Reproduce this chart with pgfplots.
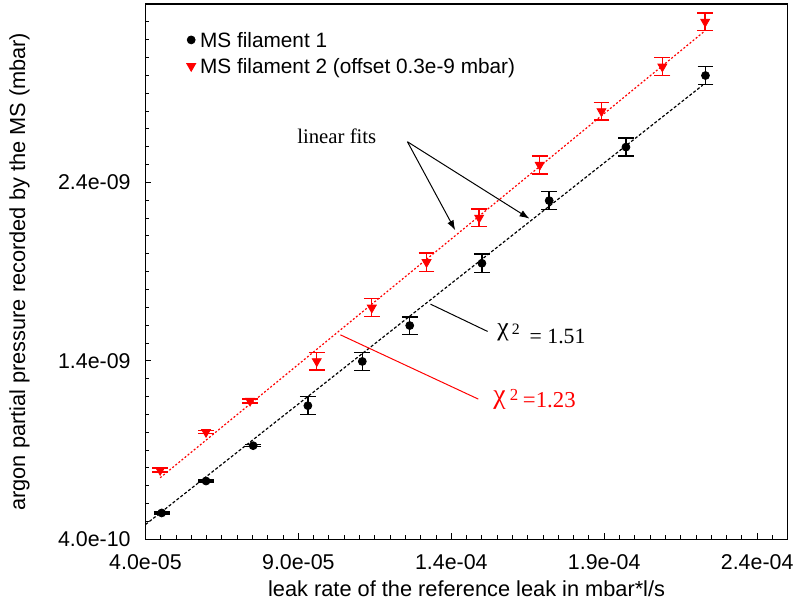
\documentclass[border=0pt]{standalone}
\usepackage{fontspec}
\setmainfont{Liberation Sans}
\newfontfamily\tms{Liberation Serif}
\usepackage{pgfplots}
\pgfplotsset{compat=1.18}
\usetikzlibrary{arrows.meta}

\begin{document}
\begin{tikzpicture}
\begin{axis}[
    scale only axis,
    width=324.5pt, height=270.5pt,
    xmin=4, xmax=25, ymin=0.4, ymax=3.4,
    xtick={4,9,14,19,24},
    xticklabels={4.0e-05,9.0e-05,1.4e-04,1.9e-04,2.4e-04},
    minor xtick={4.5,5,...,24.5},
    ytick={0.4,1.4,2.4},
    yticklabels={4.0e-10,1.4e-09,2.4e-09},
    minor ytick={0.5,0.6,...,3.35},
    tick align=inside, xtick pos=bottom, ytick pos=left,
    major tick length=3pt, minor tick length=2pt,
    axis line style={line width=0.6pt},
    tick style={black, line width=0.5pt},
    tick label style={font=\fontsize{10.8}{13}\selectfont},
    xticklabel style={yshift=-4pt},
    yticklabel style={xshift=-4pt},
    label style={font=\fontsize{11}{13}\selectfont},
    xlabel style={yshift=1pt},
    ylabel style={yshift=7.5pt},
    xlabel={leak rate of the reference leak in mbar*l/s},
    ylabel={argon partial pressure recorded by the MS (mbar)},
    legend style={at={(rel axis cs:0.049,0.953)}, anchor=north west,
        draw=none, fill=none, inner sep=0pt, row sep=0.75pt,
        font=\fontsize{10.5}{12.5}\selectfont,
        nodes={inner sep=1.5pt, text height=7.5pt, text depth=2pt}},
    legend cell align=left,
    legend image code/.code={
        \path (0pt,-3pt) rectangle (10pt,3pt);
        \draw[#1] plot coordinates {(7pt,1pt)};},
]
\coordinate (sw) at (rel axis cs:0,0);
\addlegendimage{black, mark=*, mark size=2pt, draw=none}
\addlegendentry{MS filament 1}
\addlegendimage{red, mark=triangle*, mark size=2.6pt, mark options={rotate=180}, draw=none}
\addlegendentry{MS filament 2 (offset 0.3e-9 mbar)}

% linear fits
\addplot[black, line width=0.6pt, dash pattern=on 1.5pt off 1pt, forget plot]
    coordinates {(4.00,0.483) (22.22,2.945)};
\addplot[red, line width=0.6pt, dash pattern=on 1pt off 1pt, forget plot]
    coordinates {(4.48,0.745) (22.27,3.246)};

% filament 1
\addplot[black, only marks, mark=*, mark size=2pt, forget plot,
    error bars/.cd, y dir=both, y explicit,
    error bar style={line width=0.7pt},
    error mark options={rotate=90, mark size=4pt, line width=0.7pt}]
coordinates {
    (4.53,0.548) +- (0,0.005)
    (5.98,0.727) +- (0,0.005)
    (7.52,0.925) +- (0,0.005)
    (9.31,1.149) +- (0,0.051)
    (11.09,1.397) +- (0,0.050)
    (12.64,1.598) +- (0,0.049)
    (15.00,1.947) +- (0,0.051)
    (17.20,2.298) +- (0,0.050)
    (19.71,2.598) +- (0,0.050)
    (22.31,2.999) +- (0,0.050)
};

% filament 2 (offset)
\addplot[red, only marks, mark=triangle*, mark size=2.6pt,
    mark options={rotate=180}, forget plot,
    error bars/.cd, y dir=both, y explicit,
    error bar style={line width=0.7pt},
    error mark options={rotate=90, mark size=4pt, line width=0.7pt}]
coordinates {
    (4.48,0.788) +- (0,0.011)
    (5.98,1.001) +- (0,0.009)
    (7.42,1.176) +- (0,0.011)
    (9.60,1.398) +- (0,0.050)
    (11.40,1.698) +- (0,0.050)
    (13.19,1.953) +- (0,0.051)
    (14.91,2.202) +- (0,0.050)
    (16.89,2.498) +- (0,0.050)
    (18.91,2.799) +- (0,0.050)
    (20.90,3.049) +- (0,0.050)
    (22.30,3.300) +- (0,0.050)
};

% annotations
\node[anchor=base west, inner sep=0pt, font=\tms\fontsize{10.5}{12}\selectfont]
    at (axis cs:8.95,2.618) {linear fits};
\draw[-{Latex[length=5pt,width=3.5pt]}, line width=0.5pt]
    (axis cs:12.565,2.628) -- (axis cs:14.128,2.132);
\draw[-{Latex[length=5pt,width=3.5pt]}, line width=0.5pt]
    (axis cs:12.565,2.628) -- (axis cs:16.555,2.197);

\draw[black, line width=0.5pt] (axis cs:13.319,1.718) -- (axis cs:15.186,1.565);
\node[anchor=base west, inner sep=0pt, font=\tms\fontsize{13}{14}\selectfont]
    at (axis cs:15.49,1.545) {χ};
\node[anchor=base west, inner sep=0pt, font=\tms\fontsize{8}{9}\selectfont]
    at (axis cs:15.97,1.546) {2};
\node[anchor=base west, inner sep=0pt, font=\tms\fontsize{11}{12}\selectfont]
    at (axis cs:16.55,1.500) {= 1.51};

\draw[red, line width=0.5pt] (axis cs:10.374,1.546) -- (axis cs:14.882,1.186);
\node[red, anchor=base west, inner sep=0pt, font=\tms\fontsize{14}{15}\selectfont]
    at (axis cs:15.36,1.160) {χ};
\node[red, anchor=base west, inner sep=0pt, font=\tms\fontsize{8.5}{9}\selectfont]
    at (axis cs:15.90,1.176) {2};
\node[red, anchor=base west, inner sep=0pt, font=\tms\fontsize{11.5}{12}\selectfont]
    at (axis cs:16.33,1.139) {=1.23};
\end{axis}
\path (sw) ++(-73.5pt,-30.5pt) rectangle ++(400pt,303pt);
\end{tikzpicture}
\end{document}
